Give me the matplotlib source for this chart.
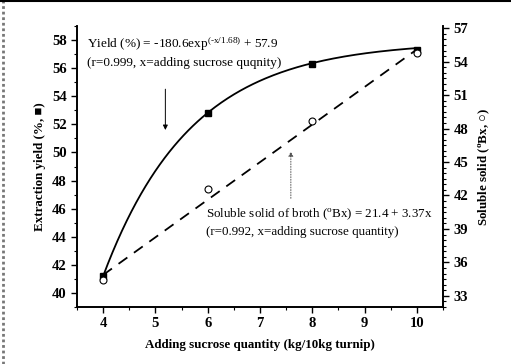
import numpy as np
import matplotlib
matplotlib.use("Agg")
import matplotlib.pyplot as plt
from matplotlib.ticker import MultipleLocator
from matplotlib.lines import Line2D

plt.rcParams['font.family'] = ['Liberation Serif', 'DejaVu Serif']

# Data
sucrose = [4, 6, 8, 10]
yield_pct = [41.2, 52.8, 56.3, 57.3]
soluble_bx = [34.4, 42.6, 48.7, 54.8]

# Fit coefficients stated on the chart
yield_a, yield_tau, yield_c = -180.6, 1.68, 57.9
bx_b0, bx_b1 = 21.4, 3.37

x_ticks = [4, 5, 6, 7, 8, 9, 10]
left_ticks = [40, 42, 44, 46, 48, 50, 52, 54, 56, 58]
right_ticks = [33, 36, 39, 42, 45, 48, 51, 54, 57]

fig = plt.figure(figsize=(5.11, 3.64), dpi=100)
ax = fig.add_axes([77/511, 1-307/364, (443-77)/511, (307-26)/364])
ax2 = ax.twinx()

xs = np.linspace(sucrose[0], sucrose[-1], 200)
ax.plot(xs, yield_a*np.exp(-xs/yield_tau) + yield_c, color='black', lw=1.3)
ax.plot(sucrose, yield_pct, 's', color='black', ms=4.5)

xl = np.array([sucrose[0], sucrose[-1]])
ax2.plot(xl, bx_b0 + bx_b1*xl, color='black', lw=1.3, ls=(0, (6, 4.5)))
ax2.plot(sucrose, soluble_bx, 'o', mfc='white', mec='black', ms=5, mew=0.8)

ax.set_xlim(3.5, 10.5)
ax.set_ylim(39, 59)
ax2.set_ylim(32, 57.2)

ax.set_xticks(x_ticks)
ax.set_yticks(left_ticks)
ax2.set_yticks(right_ticks)
ax.xaxis.set_minor_locator(MultipleLocator(0.5))
ax.yaxis.set_minor_locator(MultipleLocator(1))
ax2.yaxis.set_minor_locator(MultipleLocator(0.5))

for a in (ax, ax2):
    a.spines['top'].set_visible(False)
    for s in a.spines.values():
        s.set_linewidth(1.2)
    a.tick_params(which='major', direction='out', length=4, width=1, labelsize=10.5)
    a.tick_params(which='minor', direction='out', length=2, width=0.8)
    for lab in a.get_xticklabels() + a.get_yticklabels():
        lab.set_fontweight('bold')

ax.set_xlabel('Adding sucrose quantity (kg/10kg turnip)', fontsize=9.4, fontweight='bold', labelpad=6)
ax.set_ylabel('Extraction yield (%, \u25a0)', fontsize=9.4, fontweight='bold', labelpad=4,
              family=['Liberation Serif', 'DejaVu Sans'])
ax2.set_ylabel('Soluble solid ($\\mathregular{^o}$Bx, \u25cb)', fontsize=9.4, fontweight='bold',
               labelpad=6, family=['Liberation Serif', 'DejaVu Sans'])

ax.text(0.028, 0.935, 'Yield (%) = -180.6exp$\\mathregular{^{(\u2010x/1.68)}}$ + 57.9',
        transform=ax.transAxes, fontsize=9.5, va='center', ha='left')
ax.text(0.028, 0.868, '(r=0.999, x=adding sucrose quqnity)',
        transform=ax.transAxes, fontsize=9.5, va='center', ha='left')
ax.annotate('', xy=(5.19, 51.4), xytext=(5.19, 54.7),
            arrowprops=dict(arrowstyle='-|>', color='black', lw=0.7, mutation_scale=7))

ax2.text(5.96, 40.3, 'Soluble solid of broth ($\\mathregular{^o}$Bx) = 21.4 + 3.37x',
         fontsize=9.4, va='center', ha='left')
ax2.text(5.96, 38.7, '(r=0.992, x=adding sucrose quantity)',
         fontsize=9.4, va='center', ha='left')
ax2.annotate('', xy=(7.59, 46.2), xytext=(7.59, 41.5),
             arrowprops=dict(arrowstyle='-|>', color='#555555', lw=0.7, ls=':', mutation_scale=7))

# figure frame edges
fig.add_artist(Line2D([0.006, 0.006], [0, 1], transform=fig.transFigure, color='#777777', lw=2, ls=(0, (1, 1))))
fig.add_artist(Line2D([0, 1], [0.997, 0.997], transform=fig.transFigure, color='black', lw=1.5))

fig.savefig('out.png', dpi=100)
